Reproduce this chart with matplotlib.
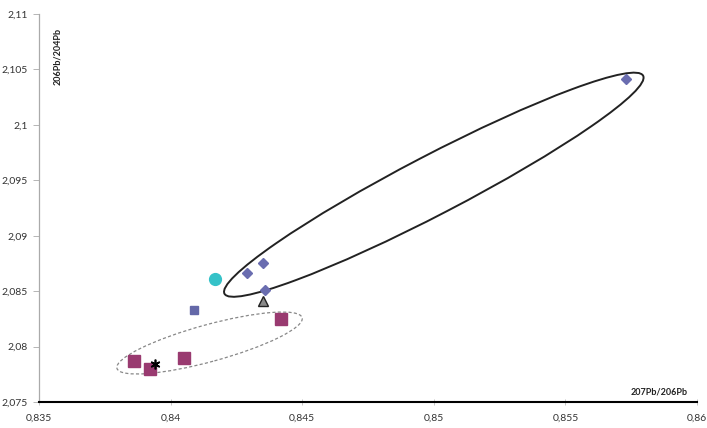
import matplotlib
matplotlib.use("Agg")
import matplotlib.pyplot as plt
from matplotlib.patches import Ellipse
from matplotlib.transforms import ScaledTranslation

plt.rcParams['font.family'] = ['Lato', 'DejaVu Sans']

# isotope ratios per sample group: 207Pb/206Pb (x) and 206Pb/204Pb (y)
group_a_x = [0.8573, 0.8429, 0.8435, 0.8436]
group_a_y = [2.1041, 2.0866, 2.0875, 2.0851]
group_b_x = [0.8442, 0.8386, 0.8392, 0.8405]
group_b_y = [2.0825, 2.0787, 2.0780, 2.0790]
blue_sq_x = [0.8409]
blue_sq_y = [2.0833]
circle_x = [0.8417]
circle_y = [2.0861]
triangle_x = [0.8435]
triangle_y = [2.0841]
star_x = [0.8394]
star_y = [2.0784]

x_ticks = [0.835, 0.84, 0.845, 0.85, 0.855, 0.86]
x_tick_labels = ["0,835", "0,84", "0,845", "0,85", "0,855", "0,86"]
y_ticks = [2.075, 2.08, 2.085, 2.09, 2.095, 2.1, 2.105, 2.11]
y_tick_labels = ["2,075", "2,08", "2,085", "2,09", "2,095", "2,1", "2,105", "2,11"]

fig = plt.figure(figsize=(7.07, 4.28), dpi=100)
ax = fig.add_axes([39 / 707, 26 / 428, 658 / 707, 388 / 428])
ax.set_xlim(0.835, 0.86)
ax.set_ylim(2.075, 2.11)

ax.plot(group_a_x, group_a_y, ls="none", marker="D", ms=5.2, color="#6a6db0", mec="#6a6db0")
ax.plot(blue_sq_x, blue_sq_y, ls="none", marker="s", ms=6, color="#6468a8")
ax.plot(group_b_x, group_b_y, ls="none", marker="s", ms=8, color="#993a70")
ax.plot(circle_x, circle_y, ls="none", marker="o", ms=8.5, color="#35c2c8")
ax.plot(triangle_x, triangle_y, ls="none", marker="^", ms=6.5, color="#8a8a8a",
        mec="#222222", mew=1)
ax.plot(star_x, star_y, ls="none", marker=(6, 2, 0), ms=7, color="black", mew=1.2)


def group_outline(center, length_px, width_px, angle, **kw):
    # ellipse sized in screen pixels, anchored at a data point
    tr = fig.dpi_scale_trans + ScaledTranslation(center[0], center[1], ax.transData)
    e = Ellipse((0, 0), length_px / 100, width_px / 100, angle=angle,
                transform=tr, fill=False, **kw)
    ax.add_patch(e)


group_outline((0.85000, 2.09460), 472, 59, 27.5, ec="#222222", lw=1.4)
group_outline((0.84148, 2.08032), 192, 37, 15.3, ec="#888888", lw=0.9, ls=(0, (2.5, 1.8)))

for side in ["top", "right"]:
    ax.spines[side].set_visible(False)
ax.spines["left"].set_color("#aaaaaa")
ax.spines["left"].set_linewidth(0.9)
ax.spines["bottom"].set_color("black")
ax.spines["bottom"].set_linewidth(1.5)

ax.set_xticks(x_ticks)
ax.set_xticklabels(x_tick_labels)
ax.set_yticks(y_ticks)
ax.set_yticklabels(y_tick_labels)
ax.tick_params(axis="x", direction="inout", length=5, width=0.6, color="#bbbbbb",
               labelsize=7.5, labelcolor="#333333", pad=6)
ax.tick_params(axis="y", direction="out", length=4, width=0.6, color="#aaaaaa",
               labelsize=7.5, labelcolor="#333333", pad=4)

ax.text(0.022, 0.965, "206Pb/204Pb", transform=ax.transAxes, rotation=90,
        ha="left", va="top", fontsize=6.5, fontweight="bold", color="#222222")
ax.text(0.985, 0.015, "207Pb/206Pb", transform=ax.transAxes,
        ha="right", va="bottom", fontsize=6.5, fontweight="bold", color="#222222")

fig.savefig("out.png", dpi=100)
